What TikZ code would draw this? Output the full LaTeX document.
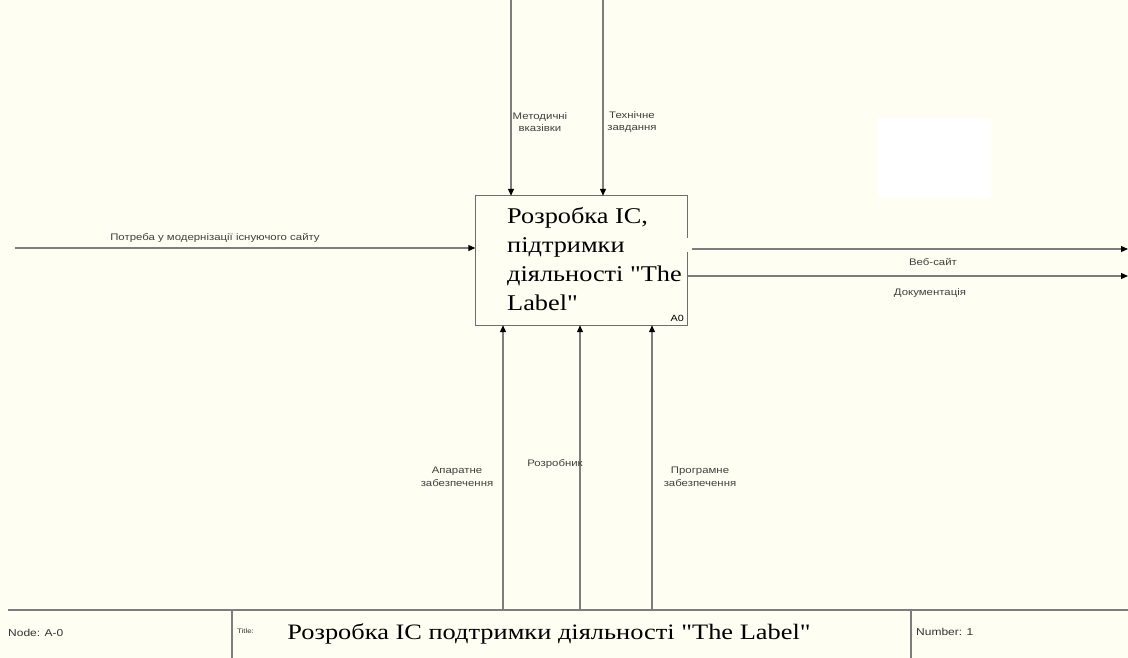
\documentclass[tikz,border=0pt]{standalone}
\usepackage{fontspec}
\newfontfamily\tnr{Liberation Serif}[FakeStretch=1.2]
\newfontfamily\tnrbox{Liberation Serif}[FakeStretch=1.17]
\newfontfamily\lsans{Liberation Sans}[FakeStretch=1.2]
\usetikzlibrary{arrows.meta}
\definecolor{bg}{RGB}{254,254,242}
\definecolor{linecol}{RGB}{125,125,125}
\definecolor{boxcol}{RGB}{110,110,110}
\tikzset{
  arr/.style={draw=linecol, line width=1.1pt, -{Triangle[length=7pt,width=6pt,fill=black,color=black]}},
  lbl/.style={font=\lsans\fontsize{9.5}{12.5}\selectfont, text=black!75, align=center, inner sep=0pt},
  foot/.style={font=\lsans\fontsize{10}{11}\selectfont, text=black!80, anchor=west, inner sep=0pt},
  frame/.style={draw=linecol, line width=1.3pt},
}
\begin{document}
\begin{tikzpicture}[x=1pt,y=-1pt]
\fill[bg] (0,0) rectangle (1128,658);
\useasboundingbox (0,0) rectangle (1128,658);
% white patch
\fill[white] (877,118) rectangle (991,198);
% main box
\node[minimum width=212pt, minimum height=129pt, inner sep=0pt] (box) at (581.5,260.5) {};
\draw[draw=boxcol, line width=1.1pt] (box.east |- 0,238) -- (box.north east) -- (box.north west) -- (box.south west) -- (box.south east) -- (box.east |- 0,252);
\node[anchor=north west, align=left, inner sep=0pt, font=\tnrbox\fontsize{22.5}{29}\selectfont] (boxtext) at (507,207) {Розробка ІС,\\підтримки\\діяльності "The\\Label"};
\node[anchor=south east, inner sep=0pt, font=\lsans\fontsize{9}{10}\selectfont] (boxid) at (684,322) {A0};
% controls (top)
\coordinate (t1) at (511,0);
\coordinate (t2) at (603,0);
\draw[arr] (t1) -- (t1 |- box.north);
\draw[arr] (t2) -- (t2 |- box.north);
\node[lbl] (lt1) at (540,122) {Методичні\\вказівки};
\node[lbl] (lt2) at (632,122) {Технічне\\завдання};
% input
\coordinate (i1) at (15,248);
\draw[arr] (i1) -- (i1 -| box.west);
\node[lbl] (li1) at (215,238) {Потреба у модернізації існуючого сайту};
% outputs
\coordinate (o1s) at (692,249);
\coordinate (o1e) at (1128,249);
\coordinate (o2e) at (1128,276);
\draw[arr] (o1s) -- (o1e);
\draw[arr] (o2e -| box.east) -- (o2e);
\node[lbl] (lo1) at (933,262) {Веб-сайт};
\node[lbl] (lo2) at (930,293) {Документація};
% mechanisms (bottom)
\coordinate (b1) at (503,610);
\coordinate (b2) at (580,610);
\coordinate (b3) at (652,610);
\draw[arr] (b1) -- (b1 |- box.south);
\draw[arr] (b2) -- (b2 |- box.south);
\draw[arr] (b3) -- (b3 |- box.south);
\node[lbl] (lb1) at (457,477) {Апаратне\\забезпечення};
\node[lbl] (lb2) at (555,464) {Розробник};
\node[lbl] (lb3) at (700,477) {Програмне\\забезпечення};
% footer
\draw[frame] (8,610) -- (1128,610);
\draw[frame] (232,610) -- (232,658);
\draw[frame] (911,610) -- (911,658);
\node[foot] (fnode) at (8,633) {Node: A-0};
\node[foot, font=\lsans\fontsize{6.5}{8}\selectfont] (ftitle) at (237,631) {Title:};
\node[inner sep=0pt, font=\tnr\fontsize{22}{24}\selectfont] (ftext) at (549,634) {Розробка ІС подтримки діяльності "The Label"};
\node[foot] (fnum) at (916,632) {Number: 1};
\end{tikzpicture}
\end{document}
